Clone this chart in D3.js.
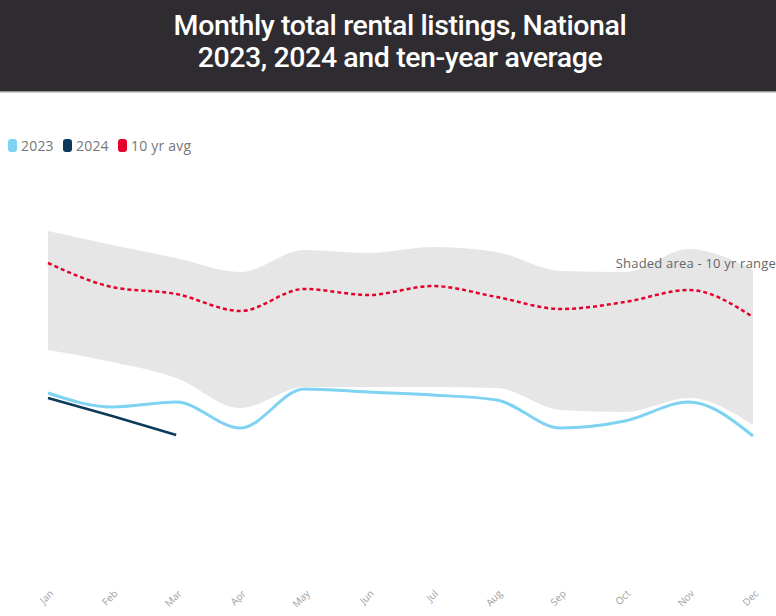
<!DOCTYPE html>
<html>
<head>
<meta charset="utf-8">
<script src="https://cdn.jsdelivr.net/npm/d3@7"></script>
<style>
  html, body { margin: 0; padding: 0; background: #fff; }
  svg { display: block; }
</style>
</head>
<body>
<div id="chart"></div>
<script>
// Chart data (index units, no y axis shown in original)
const months = ["Jan", "Feb", "Mar", "Apr", "May", "Jun", "Jul", "Aug", "Sep", "Oct", "Nov", "Dec"];
const rangeHigh = [369, 355, 342, 328, 350, 347, 353, 348, 329, 328, 351, 330];
const rangeLow = [250, 238, 222, 192, 213, 213, 213, 212, 190, 188, 202, 175];
const avg10 = [337, 313, 306, 289, 311, 305, 314, 303, 291, 298, 310, 283];
const y2023 = [207, 193, 198, 172, 211, 208, 205, 200, 172, 179, 198, 164];
const y2024 = [202, 184, 165];

const W = 776, H = 616;

const svg = d3.select("#chart").append("svg")
    .attr("width", W)
    .attr("height", H);

// header band
svg.append("rect").attr("x", 0).attr("y", 0).attr("width", W).attr("height", 92).attr("fill", "#2e2c31");
svg.append("rect").attr("x", 0).attr("y", 91).attr("width", W).attr("height", 1.5).attr("fill", "#9a9a9a");

const titleLines = ["Monthly total rental listings, National", "2023, 2024 and ten-year average"];
svg.selectAll(".title").data(titleLines).enter().append("text")
    .attr("x", 400)
    .attr("y", (d, i) => 35 + i * 32)
    .attr("text-anchor", "middle")
    .style("font-family", "Roboto, sans-serif")
    .style("font-weight", 500)
    .style("font-size", "28.5px")
    .style("letter-spacing", "-0.4px")
    .attr("fill", "#ffffff")
    .text(d => d);

// scales
const x = d3.scalePoint().domain(months).range([48, 753]);
const y = d3.scaleLinear().domain([0, 400]).range([600, 200]);

const rows = months.map((m, i) => ({m: m, hi: rangeHigh[i], lo: rangeLow[i], avg: avg10[i], v23: y2023[i]}));

// 10 yr range area
svg.append("path")
    .datum(rows)
    .attr("fill", "#e6e6e6")
    .attr("d", d3.area().curve(d3.curveMonotoneX)
        .x(d => x(d.m)).y0(d => y(d.lo)).y1(d => y(d.hi)));

svg.append("text")
    .attr("x", 776)
    .attr("y", 268)
    .attr("text-anchor", "end")
    .style("font-family", "'Open Sans', sans-serif")
    .style("font-size", "13px")
    .style("letter-spacing", "0.2px")
    .attr("fill", "#666")
    .text("Shaded area - 10 yr range");

// 10 yr average
svg.append("path")
    .datum(rows)
    .attr("fill", "none")
    .attr("stroke", "#e4002b")
    .attr("stroke-width", 2.5)
    .attr("stroke-dasharray", "4,3")
    .attr("d", d3.line().curve(d3.curveMonotoneX).x(d => x(d.m)).y(d => y(d.avg)));

// 2023
svg.append("path")
    .datum(rows)
    .attr("fill", "none")
    .attr("stroke", "#7fd3f2")
    .attr("stroke-width", 3)
    .attr("d", d3.line().curve(d3.curveMonotoneX).x(d => x(d.m)).y(d => y(d.v23)));

// 2024
svg.append("path")
    .datum(y2024)
    .attr("fill", "none")
    .attr("stroke", "#0b3a5b")
    .attr("stroke-width", 2.5)
    .attr("d", d3.line().x((d, i) => x(months[i])).y(d => y(d)));

// x axis labels
const xAxis = svg.append("g")
    .attr("transform", "translate(0,590)")
    .call(d3.axisBottom(x).tickSize(0).tickPadding(0));
xAxis.select(".domain").remove();
xAxis.selectAll("text")
    .style("font-family", "'Open Sans', sans-serif")
    .style("font-size", "10px")
    .attr("fill", "#a0a0a0")
    .style("text-anchor", "end")
    .attr("dx", "0.1em")
    .attr("dy", "0.7em")
    .attr("transform", "rotate(-45)");

// legend
const legendItems = [
    {label: "2023", color: "#7fd3f2"},
    {label: "2024", color: "#0b3a5b"},
    {label: "10 yr avg", color: "#e4002b"}
];
const legendX = [8, 63, 118];
const legend = svg.selectAll(".legend").data(legendItems).enter().append("g")
    .attr("transform", (d, i) => "translate(" + legendX[i] + ",139)");
legend.append("rect")
    .attr("width", 9).attr("height", 13).attr("rx", 3)
    .attr("fill", d => d.color);
legend.append("text")
    .attr("x", 13).attr("y", 11.5)
    .style("font-family", "'Open Sans', sans-serif")
    .style("font-size", "14px")
    .style("letter-spacing", "0.2px")
    .attr("fill", "#777")
    .text(d => d.label);
</script>
</body>
</html>
